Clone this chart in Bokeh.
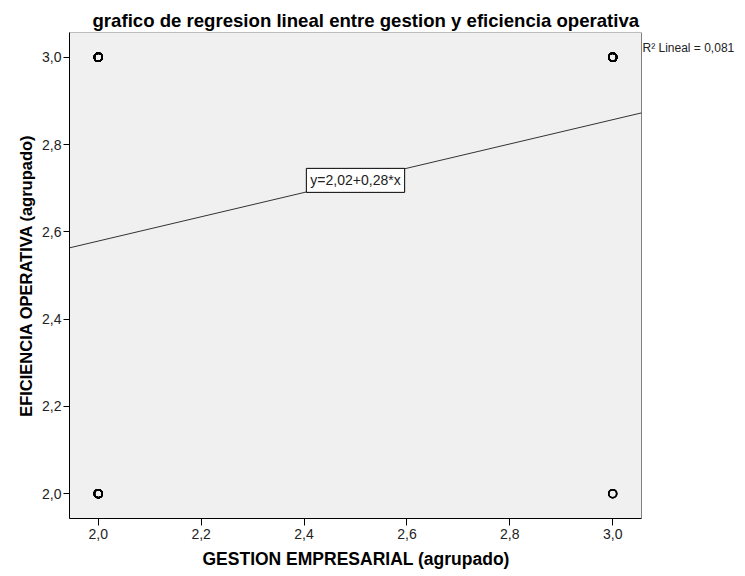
import numpy as np
from bokeh.plotting import figure
from bokeh.models import Range1d, FixedTicker, Label, Title
from bokeh.embed import file_html
from bokeh.resources import INLINE

# ---- data ----
title_text = "grafico de regresion lineal entre gestion y eficiencia operativa"
x_label = "GESTION EMPRESARIAL (agrupado)"
y_label = "EFICIENCIA OPERATIVA (agrupado)"

point_x = [2.0, 2.0, 3.0, 3.0]
point_y = [2.0, 3.0, 2.0, 3.0]
point_count = [16, 22, 3, 18]

x_ticks = [2.0, 2.2, 2.4, 2.6, 2.8, 3.0]
x_tick_labels = ["2,0", "2,2", "2,4", "2,6", "2,8", "3,0"]
y_ticks = [2.0, 2.2, 2.4, 2.6, 2.8, 3.0]
y_tick_labels = ["2,0", "2,2", "2,4", "2,6", "2,8", "3,0"]

# ---- derived ----
xs = np.repeat(point_x, point_count)
ys = np.repeat(point_y, point_count)
slope, intercept = np.polyfit(xs, ys, 1)
r2 = np.corrcoef(xs, ys)[0, 1] ** 2
eq_text = f"y={intercept:.2f}+{slope:.2f}*x".replace(".", ",")
r2_text = f"R\u00b2 Lineal = {r2:.3f}".replace(".", ",")

FONT = "Liberation Sans"

# data area limits; the frame is widened to the right to hold the R² note
X_LO, X_HI = 1.944, 3.056
Y_LO, Y_HI = 1.943, 3.057
W, H = 745, 576
LEFT, RIGHT_ROOM, AREA_W = 69, 104, 572
x_end = X_HI + RIGHT_ROOM * (X_HI - X_LO) / AREA_W

title = Title(text=title_text, align="left", offset=23, standoff=4,
              text_font=FONT, text_font_size="18.6px", text_font_style="bold",
              text_color="black")

p = figure(width=W, height=H, output_backend="svg", toolbar_location=None,
           x_range=Range1d(X_LO, x_end), y_range=Range1d(Y_LO, Y_HI),
           min_border_left=LEFT, min_border_right=0, min_border_top=32,
           min_border_bottom=58, title=title)
p.background_fill_color = "white"
p.border_fill_color = "white"
p.outline_line_color = None
p.xgrid.visible = False
p.ygrid.visible = False

p.quad(left=[X_LO], right=[X_HI], bottom=[Y_LO], top=[Y_HI],
       fill_color="#f0f0f0", line_color="#808080", line_width=1)

for ax, ticks, labels in ((p.xaxis[0], x_ticks, x_tick_labels), (p.yaxis[0], y_ticks, y_tick_labels)):
    ax.ticker = FixedTicker(ticks=ticks)
    ax.major_label_overrides = {t: l for t, l in zip(ticks, labels)}
    ax.minor_tick_line_color = None
    ax.major_tick_in = 0
    ax.axis_line_color = "black"
    ax.major_tick_line_color = "black"
    ax.major_label_text_font = FONT
    ax.major_label_text_font_size = "14px"
    ax.major_label_text_color = "#222222"
    ax.axis_label_text_font = FONT
    ax.axis_label_text_font_style = "bold"
    ax.axis_label_text_color = "black"

p.xaxis.bounds = (X_LO, X_HI)
p.yaxis.axis_label = y_label
p.yaxis.axis_label_text_font_size = "16.5px"
p.xaxis.major_tick_out = 7
p.yaxis.major_tick_out = 6
p.xaxis.major_label_standoff = 3
p.yaxis.major_label_standoff = 2
p.yaxis.axis_label_standoff = 4

# x-axis title, centred under the data area
p.add_layout(Title(text=x_label, align="left", offset=133, standoff=10,
                   text_font=FONT, text_font_size="17.5px", text_font_style="bold",
                   text_color="black"), "below")

p.scatter(xs, ys, marker="circle", size=8, fill_color=None,
          line_color="black", line_width=1.5)

ends = [X_LO, X_HI]
p.line(ends, [intercept + slope * v for v in ends], line_color="#333333", line_width=1)

xmid = (X_LO + X_HI) / 2
p.add_layout(Label(x=xmid, y=intercept + slope * xmid, text=eq_text,
                   text_align="center", text_baseline="middle",
                   text_font=FONT, text_font_size="14px", text_color="#222222",
                   background_fill_color="white", border_line_color="black",
                   border_line_width=1, padding=4))

p.add_layout(Label(x=X_HI, y=Y_HI, x_offset=1, y_offset=-15,
                   text=r2_text, text_align="left", text_baseline="alphabetic",
                   text_font=FONT, text_font_size="12px", text_color="#222222"))

open("out.html", "w").write(file_html(p, INLINE))
